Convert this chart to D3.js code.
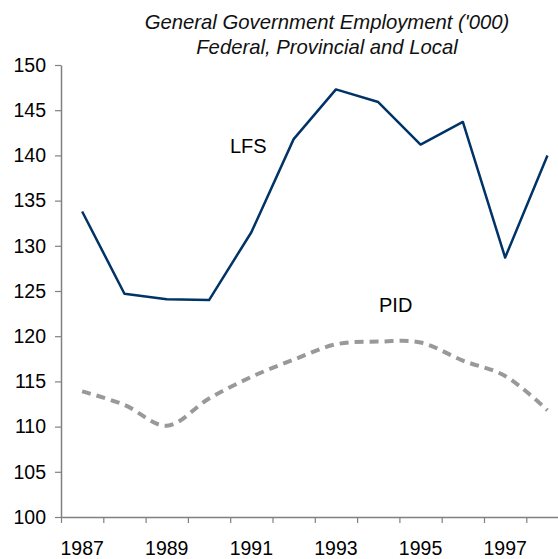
<!DOCTYPE html>
<html>
<head>
<meta charset="utf-8">
<script src="https://cdn.jsdelivr.net/npm/d3@7"></script>
<style>
  body { margin: 0; background: #fff; }
  text { font-family: "Liberation Sans", Arial, sans-serif; }
</style>
</head>
<body>
<div id="chart"></div>
<script>
const years = [1987, 1988, 1989, 1990, 1991, 1992, 1993, 1994, 1995, 1996, 1997, 1998];
const lfs = [133.8, 124.7, 124.1, 124.0, 131.5, 141.8, 147.3, 145.9, 141.2, 143.7, 128.7, 140.0];
const pid = [113.9, 112.4, 110.1, 113.1, 115.5, 117.4, 119.1, 119.4, 119.3, 117.3, 115.6, 111.8];
const yTicks = [100, 105, 110, 115, 120, 125, 130, 135, 140, 145, 150];
const xLabels = [1987, 1989, 1991, 1993, 1995, 1997];
const titleLines = ["General Government Employment ('000)", "Federal, Provincial and Local"];

const W = 558, H = 559;
const plotLeft = 61, plotTop = 65, plotBottom = 517;
const band = 42.3;

const svg = d3.select("#chart").append("svg")
  .attr("width", W)
  .attr("height", H);

const x = d3.scaleBand().domain(years).range([plotLeft, plotLeft + band * years.length]);
const xEdge = d3.scaleLinear().domain([0, years.length]).range([plotLeft, plotLeft + band * years.length]);
const y = d3.scaleLinear().domain([100, 150]).range([plotBottom, plotTop]);

// title
svg.append("g")
  .selectAll("text")
  .data(titleLines)
  .join("text")
  .attr("x", 327)
  .attr("y", (d, i) => 29 + i * 25)
  .attr("text-anchor", "middle")
  .style("font-style", "italic")
  .style("font-size", "20.3px")
  .attr("fill", "#111")
  .text(d => d);

// y axis
const yAxis = svg.append("g")
  .attr("transform", `translate(${plotLeft},0)`)
  .call(d3.axisLeft(y).tickValues(yTicks).tickSize(6).tickSizeOuter(0).tickPadding(9));
yAxis.select(".domain").attr("stroke", "#808080").attr("stroke-width", 1.5);
yAxis.selectAll(".tick line").attr("stroke", "#808080").attr("stroke-width", 1.2);
yAxis.selectAll(".tick text").style("font-size", "19.5px").attr("fill", "#000")
  .style("font-family", "'Liberation Sans', Arial, sans-serif");

// x axis line + ticks at category edges
const xAxis = svg.append("g")
  .attr("transform", `translate(0,${plotBottom})`)
  .call(d3.axisBottom(xEdge).tickValues(d3.range(years.length + 1)).tickSize(6).tickSizeOuter(0).tickFormat(""));
xAxis.select(".domain").attr("stroke", "#808080").attr("stroke-width", 1.5);
xAxis.selectAll(".tick line").attr("stroke", "#808080").attr("stroke-width", 1.2);

// x labels
const xLab = svg.append("g")
  .attr("transform", `translate(0,${plotBottom})`)
  .call(d3.axisBottom(x).tickValues(xLabels).tickSize(0).tickPadding(24));
xLab.select(".domain").remove();
xLab.selectAll(".tick text").style("font-size", "19.5px").attr("fill", "#000")
  .style("font-family", "'Liberation Sans', Arial, sans-serif");

const cx = d => x(d) + x.bandwidth() / 2;

// PID dashed smooth line
const pidLine = d3.line()
  .x((d, i) => cx(years[i]))
  .y(d => y(d))
  .curve(d3.curveCatmullRom.alpha(0.5));

svg.append("path")
  .datum(pid)
  .attr("fill", "none")
  .attr("stroke", "#999999")
  .attr("stroke-width", 4)
  .attr("stroke-dasharray", "9,6")
  .attr("d", pidLine);

// LFS line
const lfsLine = d3.line()
  .x((d, i) => cx(years[i]))
  .y(d => y(d));

svg.append("path")
  .datum(lfs)
  .attr("fill", "none")
  .attr("stroke", "#003366")
  .attr("stroke-width", 2.5)
  .attr("stroke-linejoin", "round")
  .attr("d", lfsLine);

// series labels
svg.append("text")
  .attr("x", 230).attr("y", 153)
  .style("font-size", "20px")
  .text("LFS");

svg.append("text")
  .attr("x", 379).attr("y", 312)
  .style("font-size", "20px")
  .text("PID");
</script>
</body>
</html>
